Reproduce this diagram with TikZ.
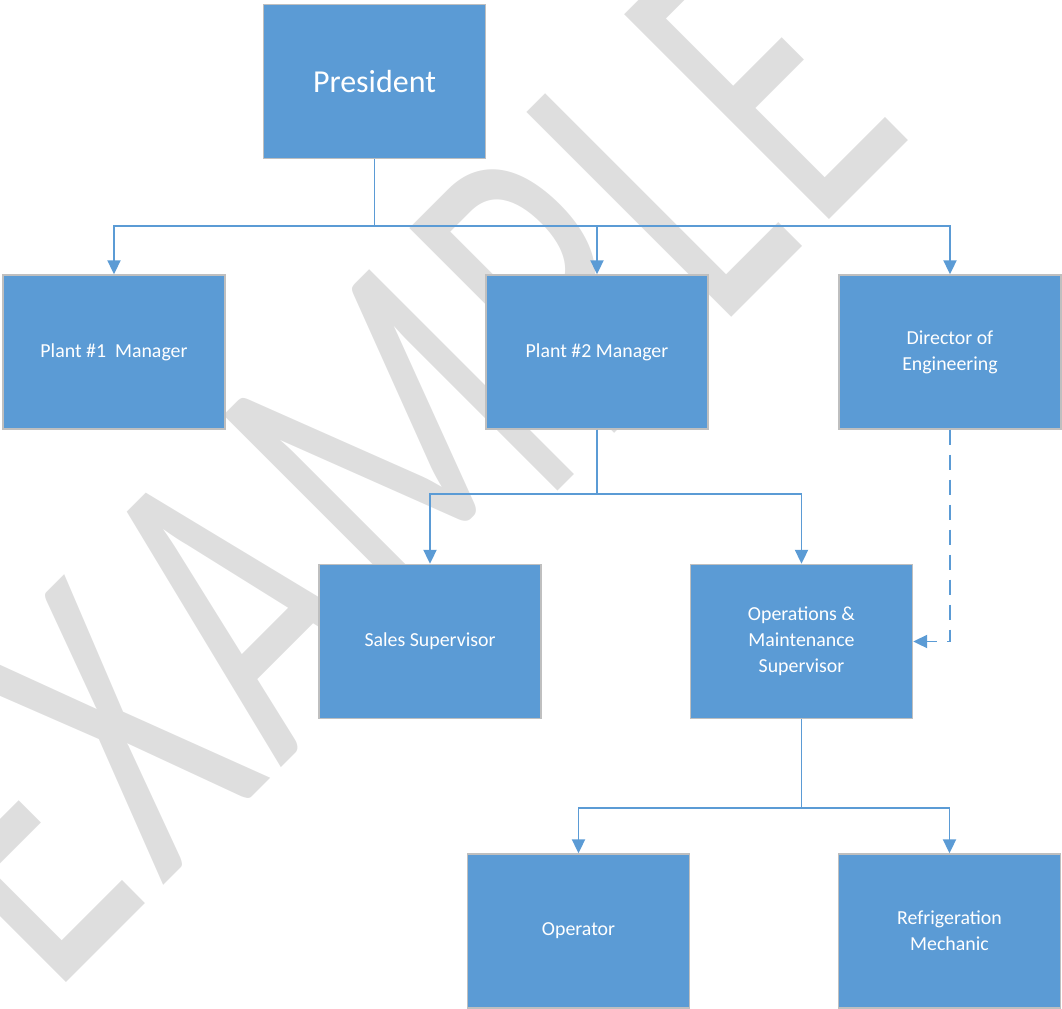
\documentclass[tikz,border=0pt]{standalone}
\usepackage{fontspec}
\setmainfont{Carlito}
\newfontfamily\stampfont[LetterSpace=4]{Carlito}
\usetikzlibrary{arrows.meta}
\definecolor{boxblue}{HTML}{5B9BD5}
\definecolor{boxrim}{HTML}{BFBFBF}
\definecolor{stampgray}{HTML}{DEDEDE}

\begin{document}
\begin{tikzpicture}[x=0.02cm,y=-0.02cm,
    orgbox/.style={draw=boxrim,line width=0.8pt,fill=boxblue,text=white,
      minimum width=4.44cm,minimum height=3.08cm,inner sep=2pt,align=center,
      font=\fontsize{11.3}{14.7}\selectfont},
    link/.style={draw=boxblue,line width=1.1pt,-{Triangle[length=0.28cm,width=0.26cm]}}]
  \useasboundingbox (0,0) rectangle (1062,1008);

  % watermark behind everything
  \node[rotate=45,text=stampgray,inner sep=0pt] (stamp) at (382,462)
    {\stampfont\fontsize{257}{257}\selectfont\scalebox{0.66}[1]{EXAMPLE}};

  \node[orgbox,font=\fontsize{18.2}{22}\selectfont] (pres) at (374.5,81.5) {President};

  \node[orgbox] (plantA) at (114,352) {Plant \#1\ \ Manager};
  \node[orgbox] (plantB) at (597,352) {Plant \#2 Manager};
  \node[orgbox] (dir) at (950,352) {Director of\\Engineering};

  \node[orgbox] (sales) at (430,641.5) {Sales Supervisor};
  \node[orgbox] (ops) at (801.5,641.5) {Operations \&\\Maintenance\\Supervisor};

  \node[orgbox] (oper) at (578.5,931) {Operator};
  \node[orgbox] (mech) at (949.5,931) {Refrigeration\\Mechanic};

  % reporting lines
  \draw[link] (pres.south) -- ++(0,67) -| (plantA.north);
  \draw[link] (pres.south) -- ++(0,67) -| (plantB.north);
  \draw[link] (pres.south) -- ++(0,67) -| (dir.north);

  \draw[link] (plantB.south) -- ++(0,64) -| (sales.north);
  \draw[link] (plantB.south) -- ++(0,64) -| (ops.north);

  \draw[link] (ops.south) -- ++(0,89) -| (oper.north);
  \draw[link] (ops.south) -- ++(0,89) -| (mech.north);

  \draw[link,dash pattern=on 0.3cm off 0.2cm] (dir.south) |- (ops.east);
\end{tikzpicture}
\end{document}
